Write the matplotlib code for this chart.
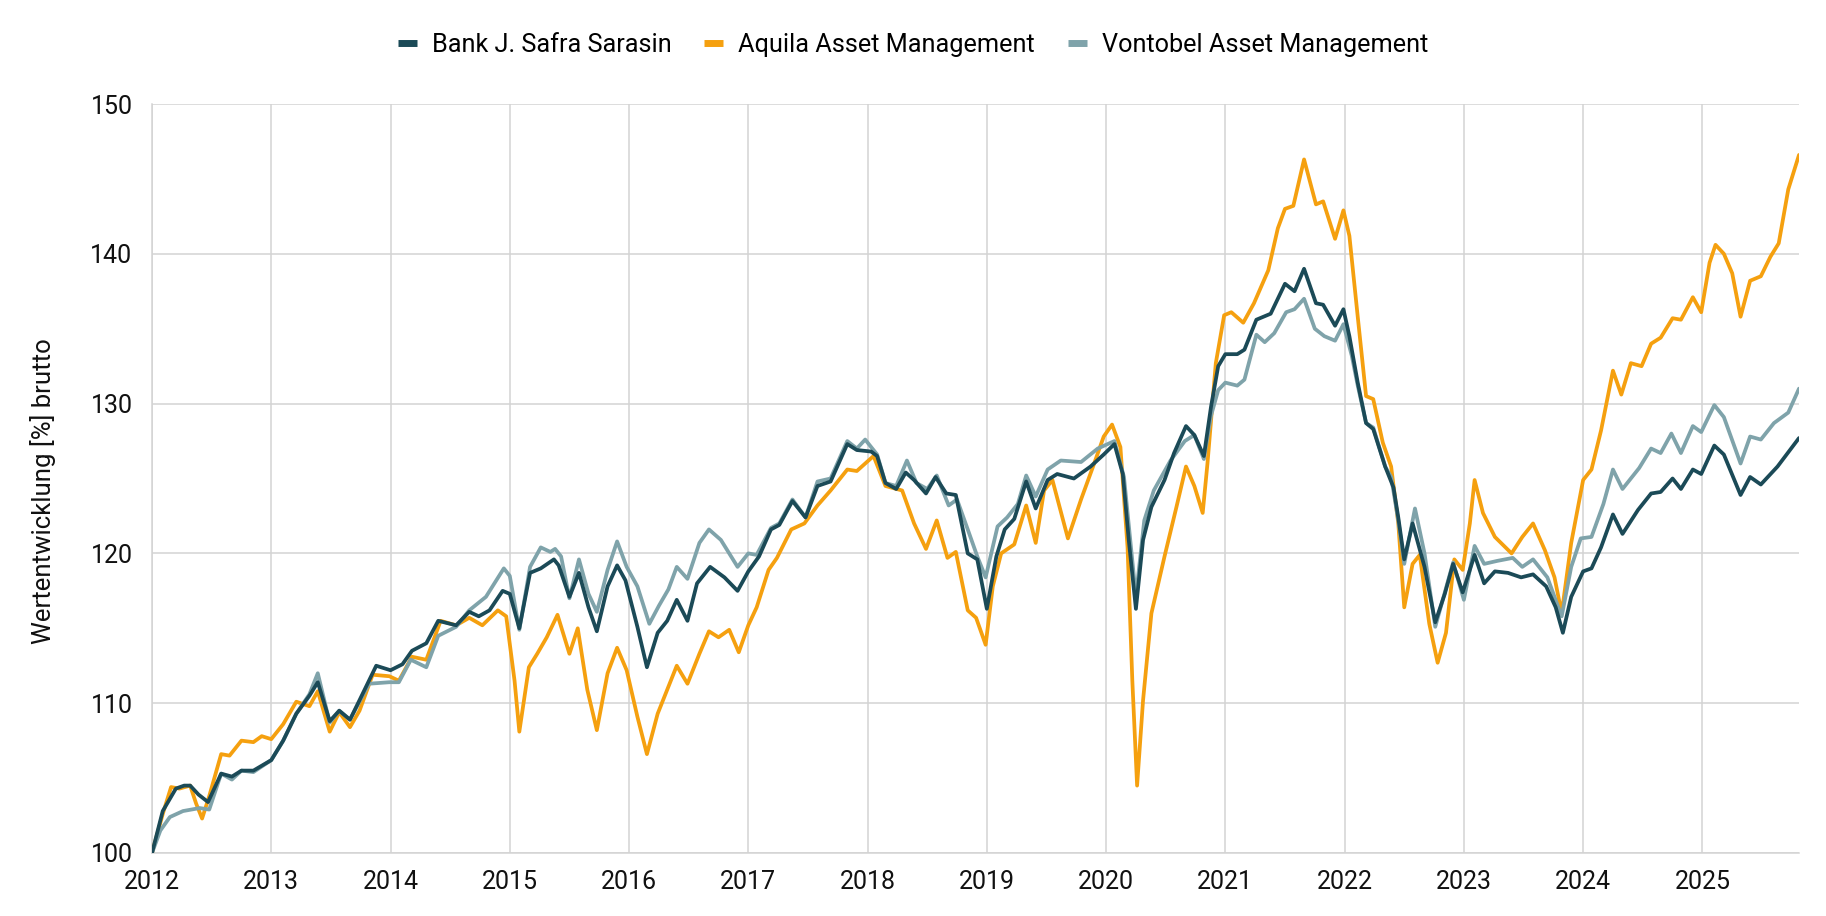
import matplotlib
matplotlib.use("Agg")
import matplotlib.pyplot as plt
from matplotlib.lines import Line2D

plt.rcParams['font.family'] = ['Roboto', 'DejaVu Sans']

bank_t = [2012.00, 2012.09, 2012.20, 2012.27, 2012.32, 2012.39, 2012.47, 2012.58, 2012.67, 2012.75,
          2012.85, 2013.00, 2013.10, 2013.21, 2013.32, 2013.39, 2013.49, 2013.57, 2013.66, 2013.74,
          2013.88, 2014.00, 2014.10, 2014.18, 2014.30, 2014.40, 2014.55, 2014.66, 2014.74, 2014.83,
          2014.94, 2015.00, 2015.08, 2015.17, 2015.26, 2015.37, 2015.41, 2015.50, 2015.58, 2015.66,
          2015.73, 2015.82, 2015.90, 2015.97, 2016.07, 2016.15, 2016.24, 2016.32, 2016.40, 2016.49,
          2016.57, 2016.68, 2016.80, 2016.91, 2017.00, 2017.09, 2017.19, 2017.26, 2017.37, 2017.48,
          2017.58, 2017.69, 2017.83, 2017.91, 2018.03, 2018.08, 2018.15, 2018.24, 2018.32, 2018.39,
          2018.49, 2018.57, 2018.66, 2018.74, 2018.84, 2018.92, 2019.00, 2019.08, 2019.15, 2019.23,
          2019.33, 2019.41, 2019.51, 2019.59, 2019.73, 2019.87, 2019.98, 2020.07, 2020.14, 2020.19,
          2020.25, 2020.31, 2020.38, 2020.49, 2020.57, 2020.67, 2020.74, 2020.82, 2020.88, 2020.94,
          2021.00, 2021.10, 2021.16, 2021.26, 2021.38, 2021.50, 2021.58, 2021.66, 2021.76, 2021.82,
          2021.92, 2021.99, 2022.04, 2022.11, 2022.18, 2022.24, 2022.34, 2022.41, 2022.45, 2022.50,
          2022.57, 2022.67, 2022.76, 2022.84, 2022.91, 2022.99, 2023.09, 2023.17, 2023.26, 2023.37,
          2023.48, 2023.58, 2023.69, 2023.77, 2023.83, 2023.90, 2024.00, 2024.07, 2024.15, 2024.25,
          2024.33, 2024.46, 2024.57, 2024.65, 2024.75, 2024.82, 2024.92, 2024.99, 2025.10, 2025.18,
          2025.32, 2025.40, 2025.49, 2025.63, 2025.81]
bank_v = [100.0, 102.8, 104.3, 104.5, 104.5, 103.9, 103.4, 105.3, 105.1, 105.5,
          105.5, 106.2, 107.5, 109.3, 110.5, 111.4, 108.8, 109.5, 108.9, 110.2,
          112.5, 112.2, 112.6, 113.5, 114.0, 115.5, 115.2, 116.1, 115.8, 116.2,
          117.5, 117.3, 115.0, 118.7, 119.0, 119.6, 119.2, 117.1, 118.7, 116.4,
          114.8, 117.8, 119.2, 118.2, 115.1, 112.4, 114.7, 115.5, 116.9, 115.5,
          118.0, 119.1, 118.4, 117.5, 118.8, 119.8, 121.6, 121.9, 123.5, 122.4,
          124.5, 124.8, 127.3, 126.9, 126.8, 126.5, 124.7, 124.3, 125.4, 124.9,
          124.0, 125.1, 124.0, 123.9, 120.0, 119.6, 116.3, 119.8, 121.6, 122.3,
          124.8, 123.0, 124.9, 125.3, 125.0, 125.8, 126.6, 127.3, 125.3, 120.9,
          116.3, 120.9, 123.1, 124.9, 126.7, 128.5, 127.9, 126.5, 129.8, 132.5,
          133.3, 133.3, 133.6, 135.6, 136.0, 138.0, 137.5, 139.0, 136.7, 136.6,
          135.2, 136.3, 134.5, 131.4, 128.7, 128.3, 125.8, 124.4, 122.4, 119.6,
          122.0, 119.1, 115.4, 117.3, 119.3, 117.4, 119.9, 118.0, 118.8, 118.7,
          118.4, 118.6, 117.8, 116.4, 114.7, 117.1, 118.8, 119.0, 120.4, 122.6,
          121.3, 122.9, 124.0, 124.1, 125.0, 124.3, 125.6, 125.3, 127.2, 126.6,
          123.9, 125.1, 124.6, 125.8, 127.7]

aquila_t = [2012.00, 2012.09, 2012.16, 2012.23, 2012.32, 2012.37, 2012.42, 2012.48, 2012.58, 2012.65,
            2012.75, 2012.85, 2012.92, 2013.00, 2013.10, 2013.21, 2013.32, 2013.39, 2013.49, 2013.57,
            2013.66, 2013.74, 2013.85, 2013.99, 2014.07, 2014.18, 2014.30, 2014.42, 2014.55, 2014.66,
            2014.77, 2014.90, 2014.97, 2015.04, 2015.08, 2015.16, 2015.23, 2015.31, 2015.40, 2015.50,
            2015.57, 2015.65, 2015.73, 2015.82, 2015.90, 2015.98, 2016.07, 2016.15, 2016.24, 2016.32,
            2016.40, 2016.49, 2016.59, 2016.67, 2016.75, 2016.84, 2016.92, 2017.00, 2017.07, 2017.17,
            2017.24, 2017.36, 2017.47, 2017.58, 2017.69, 2017.83, 2017.91, 2018.05, 2018.15, 2018.29,
            2018.39, 2018.49, 2018.58, 2018.67, 2018.74, 2018.84, 2018.91, 2018.99, 2019.05, 2019.12,
            2019.23, 2019.33, 2019.41, 2019.48, 2019.55, 2019.68, 2019.79, 2019.90, 2019.98, 2020.05,
            2020.12, 2020.18, 2020.22, 2020.26, 2020.31, 2020.38, 2020.49, 2020.59, 2020.67, 2020.74,
            2020.81, 2020.85, 2020.92, 2020.99, 2021.05, 2021.15, 2021.24, 2021.36, 2021.44, 2021.50,
            2021.57, 2021.66, 2021.76, 2021.82, 2021.92, 2021.99, 2022.04, 2022.11, 2022.18, 2022.24,
            2022.32, 2022.39, 2022.45, 2022.50, 2022.57, 2022.63, 2022.71, 2022.78, 2022.85, 2022.92,
            2022.99, 2023.05, 2023.09, 2023.16, 2023.26, 2023.40, 2023.49, 2023.58, 2023.68, 2023.76,
            2023.82, 2023.90, 2024.00, 2024.07, 2024.15, 2024.25, 2024.32, 2024.40, 2024.49, 2024.57,
            2024.65, 2024.75, 2024.82, 2024.92, 2024.99, 2025.06, 2025.11, 2025.18, 2025.25, 2025.32,
            2025.40, 2025.49, 2025.57, 2025.64, 2025.72, 2025.81]
aquila_v = [100.0, 102.6, 104.4, 104.3, 104.5, 103.3, 102.3, 103.8, 106.6, 106.5,
            107.5, 107.4, 107.8, 107.6, 108.6, 110.1, 109.8, 110.8, 108.1, 109.4,
            108.4, 109.5, 111.9, 111.8, 111.5, 113.1, 112.9, 115.5, 115.2, 115.7,
            115.2, 116.2, 115.8, 111.5, 108.1, 112.4, 113.3, 114.4, 115.9, 113.3,
            115.0, 110.9, 108.2, 112.0, 113.7, 112.2, 109.1, 106.6, 109.3, 110.9,
            112.5, 111.3, 113.3, 114.8, 114.4, 114.9, 113.4, 115.2, 116.4, 118.9,
            119.7, 121.6, 122.0, 123.2, 124.2, 125.6, 125.5, 126.5, 124.5, 124.2,
            122.0, 120.3, 122.2, 119.7, 120.1, 116.2, 115.7, 113.9, 117.8, 120.0,
            120.6, 123.2, 120.7, 124.2, 124.9, 121.0, 123.6, 126.0, 127.8, 128.6,
            127.1, 120.4, 111.5, 104.5, 110.2, 116.0, 119.8, 123.1, 125.8, 124.5,
            122.7, 126.0, 132.7, 135.9, 136.1, 135.4, 136.7, 138.9, 141.7, 143.0,
            143.2, 146.3, 143.3, 143.5, 141.0, 142.9, 141.2, 135.8, 130.5, 130.3,
            127.4, 125.8, 122.0, 116.4, 119.3, 119.9, 115.3, 112.7, 114.7, 119.6,
            118.9, 122.0, 124.9, 122.7, 121.1, 120.0, 121.1, 122.0, 120.2, 118.4,
            116.0, 120.7, 124.9, 125.6, 128.2, 132.2, 130.6, 132.7, 132.5, 134.0,
            134.4, 135.7, 135.6, 137.1, 136.1, 139.4, 140.6, 140.0, 138.7, 135.8,
            138.2, 138.5, 139.8, 140.7, 144.3, 146.6]

vontobel_t = [2012.00, 2012.07, 2012.15, 2012.26, 2012.40, 2012.48, 2012.58, 2012.67, 2012.75, 2012.85,
              2013.00, 2013.10, 2013.21, 2013.32, 2013.39, 2013.49, 2013.57, 2013.66, 2013.82, 2013.99,
              2014.07, 2014.17, 2014.30, 2014.40, 2014.55, 2014.66, 2014.80, 2014.95, 2015.00, 2015.08,
              2015.17, 2015.26, 2015.34, 2015.38, 2015.43, 2015.50, 2015.58, 2015.66, 2015.73, 2015.82,
              2015.90, 2015.98, 2016.07, 2016.17, 2016.25, 2016.33, 2016.40, 2016.49, 2016.59, 2016.67,
              2016.77, 2016.91, 2017.00, 2017.07, 2017.19, 2017.26, 2017.37, 2017.48, 2017.58, 2017.69,
              2017.83, 2017.91, 2017.98, 2018.08, 2018.15, 2018.24, 2018.33, 2018.41, 2018.50, 2018.58,
              2018.68, 2018.75, 2018.84, 2018.92, 2018.99, 2019.09, 2019.17, 2019.26, 2019.33, 2019.41,
              2019.51, 2019.62, 2019.79, 2019.93, 2020.07, 2020.15, 2020.25, 2020.32, 2020.40, 2020.54,
              2020.66, 2020.74, 2020.82, 2020.88, 2020.94, 2021.00, 2021.10, 2021.16, 2021.26, 2021.33,
              2021.41, 2021.51, 2021.58, 2021.66, 2021.75, 2021.83, 2021.92, 2021.99, 2022.06, 2022.11,
              2022.18, 2022.24, 2022.34, 2022.39, 2022.45, 2022.50, 2022.59, 2022.67, 2022.76, 2022.84,
              2022.91, 2023.00, 2023.09, 2023.17, 2023.28, 2023.41, 2023.49, 2023.58, 2023.70, 2023.82,
              2023.90, 2023.98, 2024.07, 2024.17, 2024.25, 2024.33, 2024.47, 2024.57, 2024.65, 2024.74,
              2024.82, 2024.92, 2024.99, 2025.10, 2025.18, 2025.32, 2025.40, 2025.49, 2025.60, 2025.72,
              2025.81]
vontobel_v = [100.0, 101.5, 102.4, 102.8, 103.0, 102.9, 105.3, 104.9, 105.5, 105.4,
              106.2, 107.5, 109.3, 110.6, 112.0, 108.7, 109.5, 108.9, 111.3, 111.4,
              111.4, 112.9, 112.4, 114.5, 115.1, 116.2, 117.1, 119.0, 118.5, 114.9,
              119.1, 120.4, 120.1, 120.3, 119.8, 117.0, 119.6, 117.3, 116.1, 118.9,
              120.8, 119.1, 117.8, 115.3, 116.5, 117.6, 119.1, 118.3, 120.7, 121.6,
              120.9, 119.1, 120.0, 119.9, 121.7, 122.0, 123.6, 122.4, 124.8, 125.0,
              127.5, 127.0, 127.6, 126.6, 124.7, 124.5, 126.2, 124.7, 124.3, 125.2,
              123.2, 123.6, 121.6, 119.8, 118.4, 121.8, 122.4, 123.3, 125.2, 123.8,
              125.6, 126.2, 126.1, 127.0, 127.5, 125.1, 117.1, 122.2, 124.2, 126.2,
              127.5, 127.9, 126.3, 129.2, 130.9, 131.4, 131.2, 131.6, 134.6, 134.1,
              134.7, 136.1, 136.3, 137.0, 135.0, 134.5, 134.2, 135.3, 133.2, 131.2,
              128.7, 128.4, 125.8, 125.1, 122.2, 119.3, 123.0, 120.0, 115.1, 117.4,
              119.4, 116.9, 120.5, 119.3, 119.5, 119.7, 119.1, 119.6, 118.4, 115.8,
              119.1, 121.0, 121.1, 123.3, 125.6, 124.3, 125.7, 127.0, 126.7, 128.0,
              126.7, 128.5, 128.1, 129.9, 129.1, 126.0, 127.8, 127.6, 128.7, 129.4,
              131.0]

series_names = ["Bank J. Safra Sarasin", "Aquila Asset Management", "Vontobel Asset Management"]
series_colors = ["#1b4a57", "#f5a00f", "#7fa3aa"]
year_ticks = list(range(2012, 2026))
value_ticks = [100, 110, 120, 130, 140, 150]

fig = plt.figure(figsize=(18.26, 9.16), dpi=100)
ax = fig.add_axes([152 / 1826, 1 - 853 / 916, (1799 - 152) / 1826, (853 - 104) / 916])

# Zeichenreihenfolge wie im Original: Aquila, Vontobel, Bank oben
order = [(aquila_t, aquila_v, 1), (vontobel_t, vontobel_v, 2), (bank_t, bank_v, 0)]
for t, v, i in order:
    ax.plot(t, v, color=series_colors[i], lw=2.7, solid_joinstyle="round",
            solid_capstyle="round", zorder=3)

ax.set_xlim(2012, 2025.81)
ax.set_ylim(100, 150)
ax.set_xticks(year_ticks)
ax.set_xticklabels([str(y) for y in year_ticks])
ax.set_yticks(value_ticks)
ax.grid(True, color="#d3d3d3", lw=1.1)
ax.set_axisbelow(True)
for s in ["top", "right"]:
    ax.spines[s].set_visible(False)
for s in ["left", "bottom"]:
    ax.spines[s].set_color("#d3d3d3")
    ax.spines[s].set_linewidth(1.1)
ax.tick_params(length=0, labelsize=18, colors="#111111")
ax.tick_params(axis="x", pad=12)
ax.tick_params(axis="y", pad=14)

fig.text(43 / 1826, 1 - 491 / 916, "Wertentwicklung [%] brutto", rotation=90,
         ha="center", va="center", fontsize=18.5, color="#111111")

handles = [Line2D([0], [0], color=c, lw=5, solid_capstyle="butt") for c in series_colors]
fig.legend(handles, series_names, loc="center", bbox_to_anchor=(0.5, 1 - 45 / 916), ncol=3,
           frameon=False, fontsize=18.2, handlelength=0.75, handletextpad=0.6, columnspacing=1.3)

fig.savefig("out.png", dpi=100)
